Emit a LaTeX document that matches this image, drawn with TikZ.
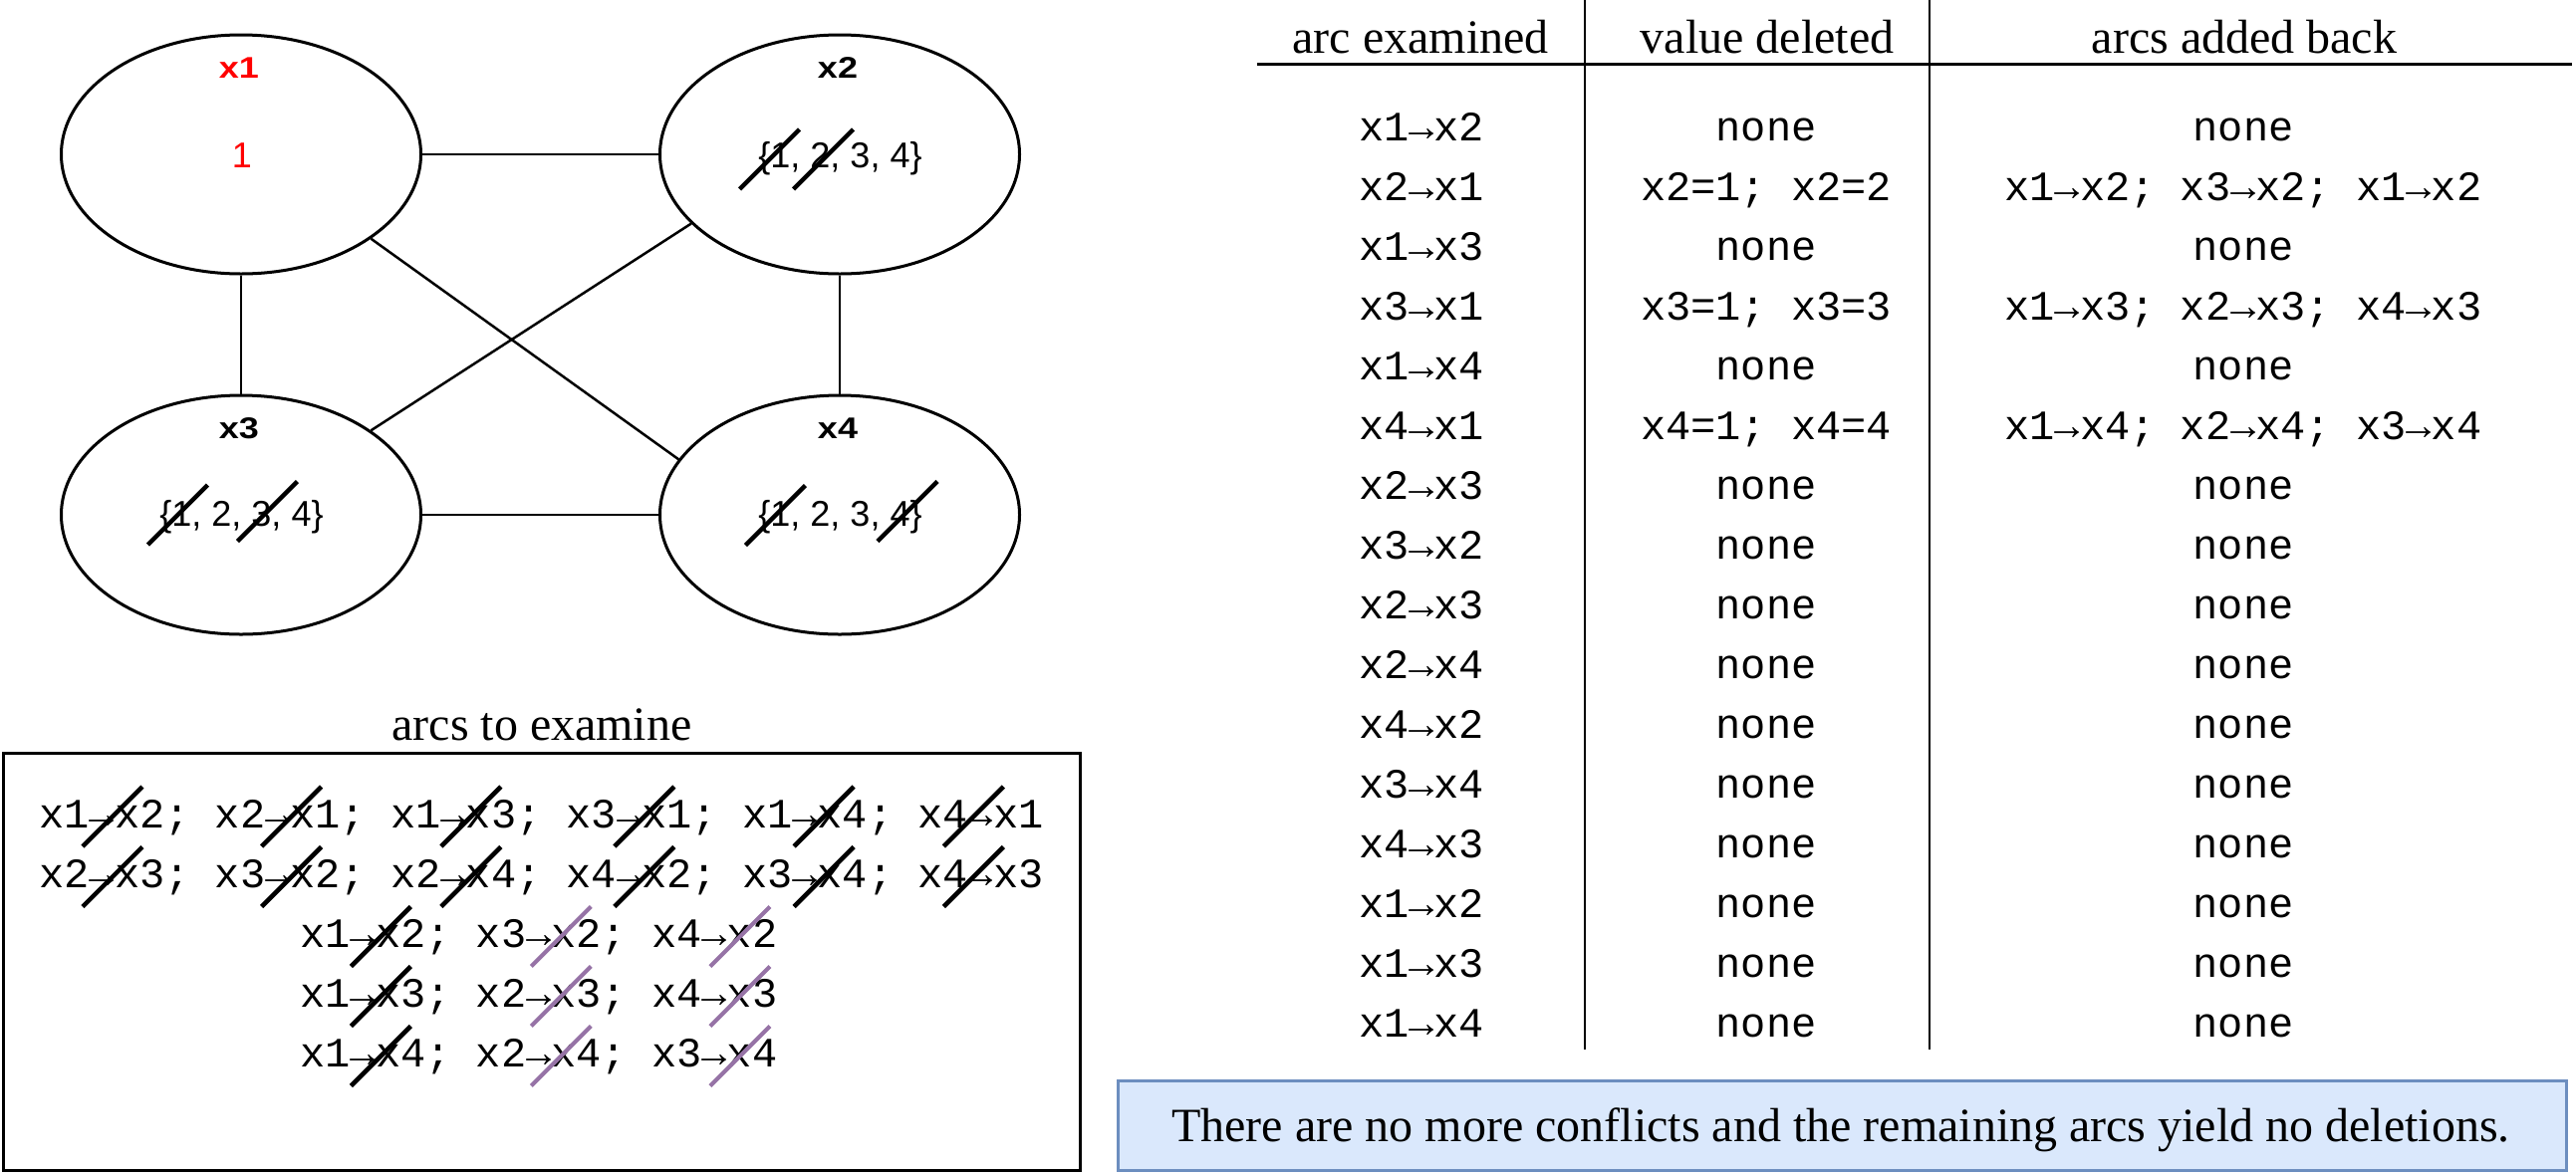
\documentclass[tikz,border=0pt]{standalone}
\usepackage{fontspec}
\setmainfont{Liberation Serif}
\setsansfont{Liberation Sans}
\setmonofont{Liberation Mono}
\newfontfamily\varlabelfont[FakeStretch=1.2]{Liberation Sans}
\usetikzlibrary{shapes.geometric}
\definecolor{strikepurple}{HTML}{9673A6}
\definecolor{notefill}{HTML}{DAE8FC}
\definecolor{notedraw}{HTML}{6C8EBF}
\definecolor{labelred}{HTML}{FF0000}
\newcommand\myslash[3][blackstrike]{\draw[#1] ({#2-30},{#3+30}) -- ({#2+30},{#3-30});}
\begin{document}
\begin{tikzpicture}[x=1pt,y=-1pt,
  varnode/.style={ellipse, draw, line width=3pt, minimum width=361pt, minimum height=240pt, inner sep=0pt},
  edgeline/.style={line width=2.5pt},
  varlabel/.style={font=\varlabelfont\bfseries\fontsize{30pt}{36pt}\selectfont, anchor=base, inner sep=0pt},
  domtext/.style={font=\sffamily\fontsize{36pt}{43pt}\selectfont, anchor=base, inner sep=0pt},
  blackstrike/.style={line width=4.5pt},
  purplestrike/.style={line width=4pt, draw=strikepurple},
  serifbig/.style={font=\rmfamily\fontsize{48pt}{58pt}\selectfont, anchor=base, inner sep=0pt},
  monotext/.style={font=\ttfamily\fontsize{42pt}{50pt}\selectfont, anchor=base, inner sep=0pt},
  hrule/.style={line width=3pt},
  vrule/.style={line width=2.5pt}]
\useasboundingbox (0,0) rectangle (2586,1179);

% ---------- constraint graph ----------
\node[varnode] (x1) at (242,155) {};
\node[varnode] (x2) at (843,155) {};
\node[varnode] (x3) at (242,517) {};
\node[varnode] (x4) at (843,517) {};

\draw[edgeline] (x1.east) -- (x2.west);
\draw[edgeline] (x1.south) -- (x3.north);
\draw[edgeline] (x2.south) -- (x4.north);
\draw[edgeline] (x3.east) -- (x4.west);
\draw[edgeline] (x1.-33) -- (x4.161);
\draw[edgeline] (x2.205) -- (x3.33);

\node[varlabel, text=labelred] (l1) at (240,78) {x1};
\node[varlabel] (l2) at (841,78) {x2};
\node[varlabel] (l3) at (240,440) {x3};
\node[varlabel] (l4) at (841,440) {x4};

\node[domtext, text=labelred] (d1) at (243,168) {1};
\node[domtext] (d2) at (843.5,168) {\{1, 2, 3, 4\}};
\node[domtext] (d3) at (242.5,528) {\{1, 2, 3, 4\}};
\node[domtext] (d4) at (843.5,528) {\{1, 2, 3, 4\}};

\myslash{772.5}{160}
\myslash{826.5}{160}
\myslash{178.5}{517}
\myslash{268.5}{513.5}
\myslash{778.5}{517.5}
\myslash{911}{513.5}

% ---------- arcs to examine ----------
\node[serifbig] (boxtitle) at (544,743) {arcs to examine};
\node[draw, line width=3pt, minimum width=1081pt, minimum height=419pt, anchor=north west, inner sep=0pt] (arcbox) at (2,755) {};

\node[monotext] (a1) at (543.5,831) {x1→x2; x2→x1; x1→x3; x3→x1; x1→x4; x4→x1};
\node[monotext] (a2) at (543.5,891) {x2→x3; x3→x2; x2→x4; x4→x2; x3→x4; x4→x3};
\node[monotext] (a3) at (541,951) {x1→x2; x3→x2; x4→x2};
\node[monotext] (a4) at (541,1011) {x1→x3; x2→x3; x4→x3};
\node[monotext] (a5) at (541,1071) {x1→x4; x2→x4; x3→x4};

\foreach \sx in {113,292.6,472.9,646.8,827.1,977.4}{
  \myslash{\sx}{820}
  \myslash{\sx}{880.5}
}
\foreach \sy in {940.5,1000.5,1060.5}{
  \myslash{382.4}{\sy}
  \myslash[purplestrike]{563.3}{\sy}
  \myslash[purplestrike]{742.9}{\sy}
}

% ---------- table ----------
\node[serifbig] (h1) at (1426,53) {arc examined};
\node[serifbig] (h2) at (1774,53) {value deleted};
\node[serifbig] (h3) at (2253,53) {arcs added back};
\draw[hrule] (1262,64) -- (2582,64);
\draw[vrule] (1591,0) -- (1591,1054);
\draw[vrule] (1937,0) -- (1937,1054);

\foreach \ca/\cb/\cc [count=\i from 0] in {
  x1→x2/none/none,
  x2→x1/x2=1; x2=2/x1→x2; x3→x2; x1→x2,
  x1→x3/none/none,
  x3→x1/x3=1; x3=3/x1→x3; x2→x3; x4→x3,
  x1→x4/none/none,
  x4→x1/x4=1; x4=4/x1→x4; x2→x4; x3→x4,
  x2→x3/none/none,
  x3→x2/none/none,
  x2→x3/none/none,
  x2→x4/none/none,
  x4→x2/none/none,
  x3→x4/none/none,
  x4→x3/none/none,
  x1→x2/none/none,
  x1→x3/none/none,
  x1→x4/none/none}{
  \node[monotext] (ra\i) at (1427,{141+60*\i}) {\ca};
  \node[monotext] (rb\i) at (1773,{141+60*\i}) {\cb};
  \node[monotext] (rc\i) at (2252,{141+60*\i}) {\cc};
}

% ---------- note ----------
\node[draw=notedraw, fill=notefill, line width=3pt, minimum width=1454pt, minimum height=90pt, anchor=north west, inner sep=0pt] (note) at (1121,1084) {};
\node[serifbig] (notetext) at (1848,1146) {There are no more conflicts and the remaining arcs yield no deletions.};
\end{tikzpicture}
\end{document}
